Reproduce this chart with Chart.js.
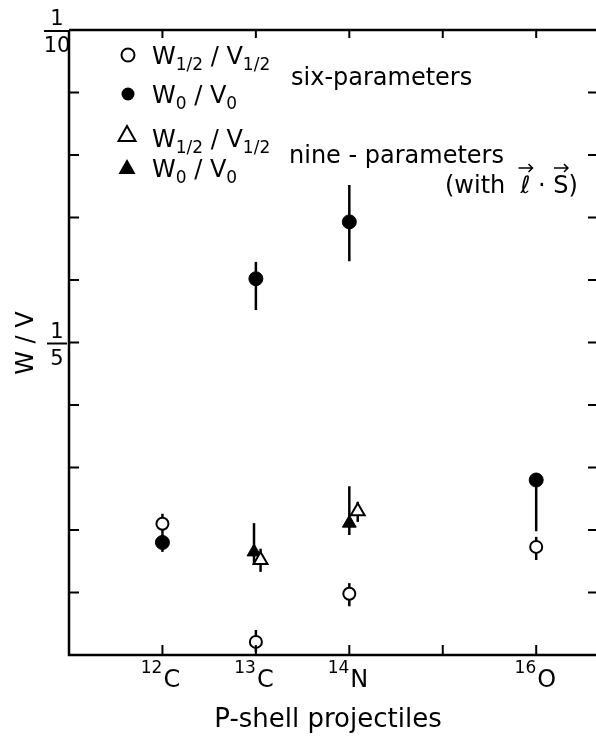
<!DOCTYPE html>
<html>
<head>
<meta charset="utf-8">
<script src="https://cdn.jsdelivr.net/npm/chart.js@4.4.1/dist/chart.umd.min.js"></script>
<style>
  body { margin: 0; background: #fff; }
  canvas { display: block; }
</style>
</head>
<body>
<canvas id="wv_Chart" width="596" height="742"></canvas>
<script>
// axis ticks
const xTickValues = [12, 13, 14, 15, 16];
const xTickMass = ['12', '13', '14', '', '16'];
const xTickElem = ['C', 'C', 'N', '', 'O'];
const yTickValues = [0, 1, 2, 3, 4, 5, 6, 7, 8, 9, 10];
const yFracValues = [10, 5];
const yFracDenoms = ['10', '5'];

// six-parameter fit, W1/2 / V1/2 (open circles)
const sixHalfX = [12, 13, 14, 16];
const sixHalfY = [2.10, 0.21, 0.98, 1.73];
const sixHalfLo = [1.95, 0.05, 0.78, 1.52];
const sixHalfHi = [2.26, 0.40, 1.15, 1.89];

// six-parameter fit, W0 / V0 (filled circles)
const sixZeroX = [12, 13, 14, 16];
const sixZeroY = [1.80, 6.02, 6.93, 2.80];
const sixZeroLo = [1.65, 5.52, 6.30, 1.98];
const sixZeroHi = [1.95, 6.29, 7.52, 2.91];

// nine-parameter fit, W1/2 / V1/2 (open triangles)
const nineHalfX = [13.05, 14.09];
const nineHalfY = [1.52, 2.30];
const nineHalfLo = [1.33, 2.13];
const nineHalfHi = [1.70, 2.45];

// nine-parameter fit, W0 / V0 (filled triangles)
const nineZeroX = [12.98, 14.0];
const nineZeroY = [1.65, 2.11];
const nineZeroLo = [1.45, 1.92];
const nineZeroHi = [2.11, 2.70];

const FONT = '"DejaVu Sans", sans-serif';

function pts(xs, ys) {
    return xs.map((x, i) => ({ x: x, y: ys[i] }));
}

// vertical error bars, drawn under the markers
const errorBars = {
    id: 'errorBars',
    beforeDatasetsDraw(chart) {
        const ctx = chart.ctx;
        const xs = chart.scales.x, ys = chart.scales.y;
        ctx.save();
        ctx.strokeStyle = '#000';
        ctx.lineWidth = 2.5;
        chart.data.datasets.forEach(ds => {
            ds.data.forEach((p, i) => {
                const px = xs.getPixelForValue(p.x);
                ctx.beginPath();
                ctx.moveTo(px, ys.getPixelForValue(ds.lo[i]));
                ctx.lineTo(px, ys.getPixelForValue(ds.hi[i]));
                ctx.stroke();
            });
        });
        ctx.restore();
    }
};

// text with subscripts: parts = [[text, isSub], ...]
function richText(ctx, x, y, parts, size, subSize) {
    parts.forEach(([t, sub]) => {
        ctx.font = (sub ? subSize : size) + 'px ' + FONT;
        ctx.fillText(t, x, sub ? y + 6 : y);
        x += ctx.measureText(t).width;
    });
    return x;
}

function marker(ctx, kind, x, y) {
    ctx.beginPath();
    if (kind.startsWith('circle')) {
        ctx.arc(x, y, 6.5, 0, Math.PI * 2);
    } else {
        ctx.moveTo(x, y - 8);
        ctx.lineTo(x + 8.5, y + 7);
        ctx.lineTo(x - 8.5, y + 7);
        ctx.closePath();
    }
    if (kind.endsWith('Fill')) { ctx.fillStyle = '#000'; ctx.fill(); }
    else { ctx.fillStyle = '#fff'; ctx.fill(); ctx.lineWidth = 2; ctx.stroke(); }
}

// frame, inward ticks, labels and the annotation text
const frame = {
    id: 'frame',
    afterDraw(chart) {
        const ctx = chart.ctx;
        const a = chart.chartArea;
        const xs = chart.scales.x, ys = chart.scales.y;
        ctx.save();
        ctx.strokeStyle = '#000';
        ctx.fillStyle = '#000';

        ctx.lineWidth = 2.5;
        ctx.beginPath();
        ctx.moveTo(a.left, a.top);
        ctx.lineTo(a.right, a.top);
        ctx.moveTo(a.left, a.top);
        ctx.lineTo(a.left, a.bottom);
        ctx.lineTo(a.right, a.bottom);
        ctx.stroke();

        ctx.lineWidth = 2;
        ctx.beginPath();
        yTickValues.forEach(v => {
            const py = ys.getPixelForValue(v);
            ctx.moveTo(a.left, py); ctx.lineTo(a.left + 10, py);
            ctx.moveTo(a.right, py); ctx.lineTo(a.right - 8, py);
        });
        xTickValues.forEach(v => {
            const px = xs.getPixelForValue(v);
            ctx.moveTo(px, a.bottom); ctx.lineTo(px, a.bottom - 10);
            ctx.moveTo(px, a.top); ctx.lineTo(px, a.top + 8);
        });
        ctx.stroke();

        // x tick labels like 12C
        ctx.textBaseline = 'alphabetic';
        xTickValues.forEach((v, i) => {
            if (!xTickElem[i]) return;
            const px = xs.getPixelForValue(v);
            ctx.font = '17px ' + FONT;
            ctx.textAlign = 'right';
            ctx.fillText(xTickMass[i], px, 673);
            ctx.font = '24px ' + FONT;
            ctx.textAlign = 'left';
            ctx.fillText(xTickElem[i], px + 1, 687);
        });

        // y tick labels as fractions
        ctx.textAlign = 'center';
        ctx.font = '21px ' + FONT;
        yFracValues.forEach((v, i) => {
            const py = ys.getPixelForValue(v);
            const w = yFracDenoms[i].length > 1 ? 24 : 18;
            ctx.fillText('1', 57, py - 5);
            ctx.fillText(yFracDenoms[i], 57, py + 22);
            ctx.lineWidth = 2;
            ctx.beginPath();
            ctx.moveTo(57 - w / 2 - 1, py + 1);
            ctx.lineTo(57 + w / 2 + 1, py + 1);
            ctx.stroke();
        });

        // axis titles
        ctx.font = '26px ' + FONT;
        ctx.fillText('P-shell projectiles', 328, 727);
        ctx.save();
        ctx.translate(33, 343);
        ctx.rotate(-Math.PI / 2);
        ctx.font = '24px ' + FONT;
        ctx.fillText('W / V', 0, 0);
        ctx.restore();

        // legend
        ctx.textAlign = 'left';
        const half = [['W', 0], ['1/2', 1], [' / ', 0], ['V', 0], ['1/2', 1]];
        const zero = [['W', 0], ['0', 1], [' / ', 0], ['V', 0], ['0', 1]];
        ctx.strokeStyle = '#000';
        marker(ctx, 'circle', 128, 55);
        marker(ctx, 'circleFill', 128, 94);
        marker(ctx, 'triangle', 127, 134);
        marker(ctx, 'triangleFill', 127, 167);
        ctx.fillStyle = '#000';
        richText(ctx, 152, 64, half, 24, 17);
        richText(ctx, 152, 103, zero, 24, 17);
        richText(ctx, 152, 147, half, 24, 17);
        richText(ctx, 152, 177, zero, 24, 17);

        ctx.font = '24px ' + FONT;
        ctx.fillText('six-parameters', 291, 85);
        ctx.fillText('nine - parameters', 289, 163);
        let x = 445;
        ctx.fillText('(with  ', x, 193);
        x += ctx.measureText('(with  ').width;
        ctx.font = 'italic 24px ' + FONT;
        ctx.fillText('\u2113', x, 193);
        const lx = x + ctx.measureText('\u2113').width / 2;
        x += ctx.measureText('\u2113').width;
        ctx.font = '24px ' + FONT;
        ctx.fillText(' \u00b7 ', x, 193);
        x += ctx.measureText(' \u00b7 ').width;
        ctx.fillText('S', x, 193);
        const sx = x + ctx.measureText('S').width / 2;
        x += ctx.measureText('S').width;
        ctx.fillText(')', x, 193);
        ctx.lineWidth = 1.5;
        [lx, sx].forEach(cx => {
            ctx.beginPath();
            ctx.moveTo(cx - 7, 168); ctx.lineTo(cx + 7, 168);
            ctx.moveTo(cx + 3, 164); ctx.lineTo(cx + 7, 168); ctx.lineTo(cx + 3, 172);
            ctx.stroke();
        });
        ctx.restore();
    }
};

const ctxWV = document.getElementById('wv_Chart').getContext('2d');
new Chart(ctxWV, {
    type: 'scatter',
    data: {
        datasets: [
            { data: pts(sixHalfX, sixHalfY), lo: sixHalfLo, hi: sixHalfHi,
              pointStyle: 'circle', pointRadius: 6, borderWidth: 2,
              borderColor: '#000', backgroundColor: '#fff' },
            { data: pts(sixZeroX, sixZeroY), lo: sixZeroLo, hi: sixZeroHi,
              pointStyle: 'circle', pointRadius: 7, borderWidth: 1,
              borderColor: '#000', backgroundColor: '#000' },
            { data: pts(nineHalfX, nineHalfY), lo: nineHalfLo, hi: nineHalfHi,
              pointStyle: 'triangle', pointRadius: 8, borderWidth: 2,
              borderColor: '#000', backgroundColor: '#fff' },
            { data: pts(nineZeroX, nineZeroY), lo: nineZeroLo, hi: nineZeroHi,
              pointStyle: 'triangle', pointRadius: 8, borderWidth: 1,
              borderColor: '#000', backgroundColor: '#000' }
        ]
    },
    options: {
        responsive: false,
        animation: false,
        layout: { autoPadding: false, padding: { top: 30, right: 0, left: 0, bottom: 0 } },
        plugins: {
            legend: { display: false },
            tooltip: { enabled: false }
        },
        scales: {
            x: {
                type: 'linear',
                min: 11,
                max: 16.64,
                grid: { display: false },
                border: { display: false },
                ticks: { display: false, padding: 0 },
                afterFit: (scale) => {
                    scale.height = 87;
                    scale.paddingLeft = 0;
                    scale.paddingRight = 0;
                }
            },
            y: {
                type: 'linear',
                min: 0,
                max: 10,
                grid: { display: false },
                border: { display: false },
                ticks: { display: false, padding: 0 },
                afterFit: (scale) => {
                    scale.width = 69;
                    scale.paddingTop = 0;
                    scale.paddingBottom = 0;
                }
            }
        }
    },
    plugins: [errorBars, frame]
});
</script>
</body>
</html>
